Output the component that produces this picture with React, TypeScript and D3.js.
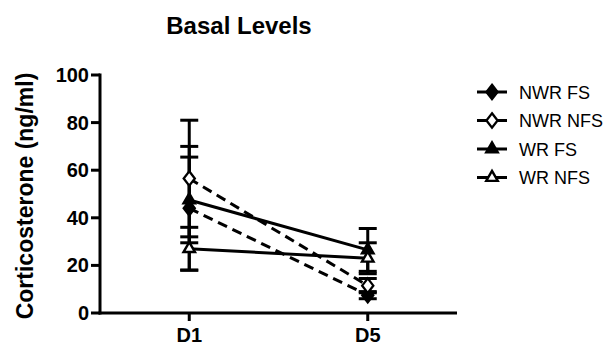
import React from 'react';
import * as d3 from 'd3';

const days = ['D1', 'D5'];
const groups = ['NWR FS', 'NWR NFS', 'WR FS', 'WR NFS'];
const means: Record<string, number[]> = {
  'NWR FS': [44, 7.5],
  'NWR NFS': [56.5, 11.5],
  'WR FS': [47.5, 26.5],
  'WR NFS': [27, 23],
};
const errors: Record<string, number[]> = {
  'NWR FS': [26, 1.5],
  'NWR NFS': [24.5, 3],
  'WR FS': [18, 9],
  'WR NFS': [9, 6.5],
};
const yTicks = [0, 20, 40, 60, 80, 100];

const markerFilled = [true, false, true, false];
const markerShape = ['diamond', 'diamond', 'triangle', 'triangle'];
const dashed = [true, true, false, false];

const W = 611;
const H = 352;
const font = 'Arial, "Liberation Sans", Helvetica, sans-serif';

function Marker({ shape, filled, x, y }: { shape: string; filled: boolean; x: number; y: number }) {
  const sym = shape === 'diamond' ? d3.symbolDiamond2 : d3.symbolTriangle2;
  const size = shape === 'diamond' ? 110 : 95;
  const path = d3.symbol(sym, size)()!;
  return (
    <path
      d={path}
      transform={`translate(${x},${y})${shape === 'diamond' ? ' scale(0.85,1.1)' : ''}`}
      fill={filled ? '#000' : '#fff'}
      stroke="#000"
      strokeWidth={2.4}
    />
  );
}

export default function App() {
  const x = d3.scalePoint<string>().domain(days).range([100, 457]).padding(0.5);
  const y = d3.scaleLinear().domain([0, 100]).range([313, 75]);
  const line = d3.line<number>().x((_, i) => x(days[i])!).y(d => y(d));

  return (
    <svg width={W} height={H} style={{ position: 'absolute', left: 0, top: 0 }} fontFamily={font}>
      <rect width={W} height={H} fill="#fff" />
      <text x={239} y={34} textAnchor="middle" fontSize={24} fontWeight="bold">Basal Levels</text>
      <text
        transform={`translate(33,${196}) rotate(-90)`}
        textAnchor="middle"
        fontSize={23}
        fontWeight="bold"
      >
        Corticosterone (ng/ml)
      </text>

      {/* axes */}
      <line x1={100} x2={100} y1={y(100) - 1.5} y2={y(0) + 1.5} stroke="#000" strokeWidth={3} />
      <line x1={98.5} x2={457} y1={y(0)} y2={y(0)} stroke="#000" strokeWidth={3} />
      {yTicks.map(t => (
        <g key={t}>
          <line x1={91} x2={100} y1={y(t)} y2={y(t)} stroke="#000" strokeWidth={3} />
          <text x={89} y={y(t) + 7} textAnchor="end" fontSize={20} fontWeight="bold">{t}</text>
        </g>
      ))}
      {days.map(d => (
        <g key={d}>
          <line x1={x(d)} x2={x(d)} y1={y(0)} y2={y(0) + 8} stroke="#000" strokeWidth={3} />
          <text x={x(d)} y={342} textAnchor="middle" fontSize={20} fontWeight="bold">{d}</text>
        </g>
      ))}

      {/* error bars */}
      {groups.map(g =>
        days.map((d, i) => {
          const cx = x(d)!;
          const hi = y(means[g][i] + errors[g][i]);
          const lo = y(Math.max(0, means[g][i] - errors[g][i]));
          return (
            <g key={g + d} stroke="#000" strokeWidth={3}>
              <line x1={cx} x2={cx} y1={hi} y2={lo} />
              <line x1={cx - 9} x2={cx + 9} y1={hi} y2={hi} />
              <line x1={cx - 9} x2={cx + 9} y1={lo} y2={lo} />
            </g>
          );
        })
      )}

      {/* lines */}
      {groups.map((g, k) => (
        <path
          key={g}
          d={line(means[g])!}
          fill="none"
          stroke="#000"
          strokeWidth={3}
          strokeDasharray={dashed[k] ? '10,6' : undefined}
        />
      ))}

      {/* markers */}
      {groups.map((g, k) =>
        days.map((d, i) => (
          <Marker key={g + d} shape={markerShape[k]} filled={markerFilled[k]} x={x(d)!} y={y(means[g][i])} />
        ))
      )}

      {/* legend */}
      {groups.map((g, k) => {
        const ly = 92 + k * 28.5;
        return (
          <g key={g}>
            <line x1={477} x2={507} y1={ly} y2={ly} stroke="#000" strokeWidth={3} />
            <Marker shape={markerShape[k]} filled={markerFilled[k]} x={492} y={ly} />
            <text x={519} y={ly + 6.5} fontSize={18}>{g}</text>
          </g>
        );
      })}
    </svg>
  );
}
